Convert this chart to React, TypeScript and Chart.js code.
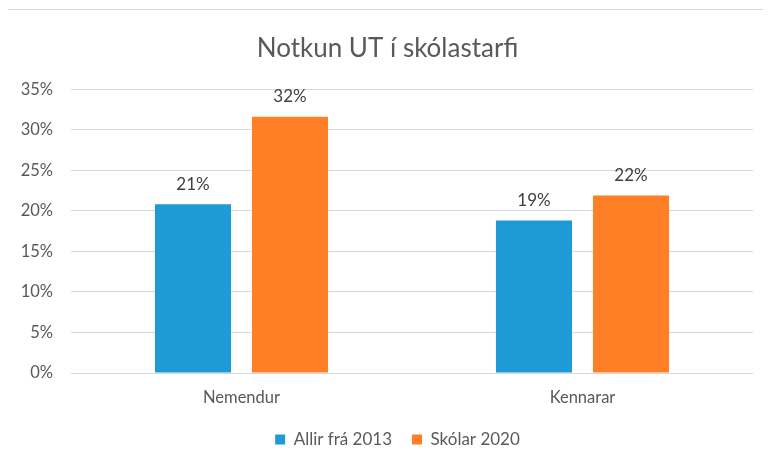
import React, { useEffect, useRef } from "react";
import { Chart, registerables } from "chart.js";

Chart.register(...registerables);

const categories = ["Nemendur", "Kennarar"];
const seriesNames = ["Allir frá 2013", "Skólar 2020"];
const allirFra2013 = [20.8, 18.8];
const skolar2020 = [31.6, 21.9];
const seriesColors = ["#1E9BD7", "#FF7F27"];
const titleText = "Notkun UT í skólastarfi";

const FONT = "Lato, 'Open Sans', sans-serif";
const TEXT = "#595959";

const barLabels = {
  id: "barLabels",
  afterDatasetsDraw(chart: any) {
    const ctx = chart.ctx;
    ctx.save();
    ctx.font = `17px ${FONT}`;
    ctx.fillStyle = "#404040";
    ctx.textAlign = "center";
    ctx.textBaseline = "middle";
    chart.data.datasets.forEach((ds: any, di: number) => {
      const meta = chart.getDatasetMeta(di);
      meta.data.forEach((bar: any, i: number) => {
        const v = ds.data[i];
        ctx.fillText(Math.round(v) + "%", bar.x, bar.y - 20);
      });
    });
    ctx.restore();
  },
};

const shiftBoxes = {
  id: "shiftBoxes",
  afterLayout(chart: any) {
    if (chart.legend) {
      chart.legend.left += 17;
      chart.legend.right += 17;
    }
    if (chart.titleBlock) {
      chart.titleBlock.left += 7;
      chart.titleBlock.right += 7;
    }
  },
};

export default function App() {
  const ref = useRef<HTMLCanvasElement>(null);
  useEffect(() => {
    if (!ref.current) return;
    const chart = new Chart(ref.current, {
      type: "bar",
      data: {
        labels: categories,
        datasets: [
          { label: seriesNames[0], data: allirFra2013, backgroundColor: seriesColors[0] },
          { label: seriesNames[1], data: skolar2020, backgroundColor: seriesColors[1] },
        ],
      },
      plugins: [barLabels, shiftBoxes],
      options: {
        animation: false,
        responsive: false,
        maintainAspectRatio: false,
        layout: { padding: { left: 0, right: 17, top: 0, bottom: 1 } },
        datasets: {
          bar: { categoryPercentage: 0.569, barPercentage: 0.784 },
        } as any,
        plugins: {
          title: {
            display: true,
            text: titleText,
            color: TEXT,
            font: { family: FONT, size: 26, weight: "normal" },
            padding: { top: 23, bottom: 25 },
          },
          legend: {
            position: "bottom",
            labels: {
              boxWidth: 10,
              boxHeight: 10,
              color: TEXT,
              font: { family: FONT, size: 17 },
              padding: 20,
            },
          },
          tooltip: { enabled: false },
        },
        scales: {
          x: {
            grid: { display: false },
            border: { display: false },
            ticks: { color: TEXT, font: { family: FONT, size: 16.5 }, padding: 7 },
            afterFit: (s: any) => { s.height = 38; },
          },
          y: {
            min: 0,
            max: 35,
            grid: { color: "#D9D9D9", drawTicks: false },
            border: { display: false },
            ticks: {
              stepSize: 5,
              color: TEXT,
              font: { family: FONT, size: 16.5 },
              padding: 18,
              callback: (v: any) => v + "%",
            },
            afterFit: (s: any) => { s.width = 63; },
          },
        },
      },
    });
    return () => chart.destroy();
  }, []);
  return (
    <div
      style={{
        width: 762,
        height: 449,
        borderTop: "1px solid #D9D9D9",
        borderLeft: "1px solid #D9D9D9",
        marginLeft: -1,
        marginTop: 1,
      }}
    >
      <canvas ref={ref} width={762} height={449} style={{ display: "block" }} />
    </div>
  );
}
